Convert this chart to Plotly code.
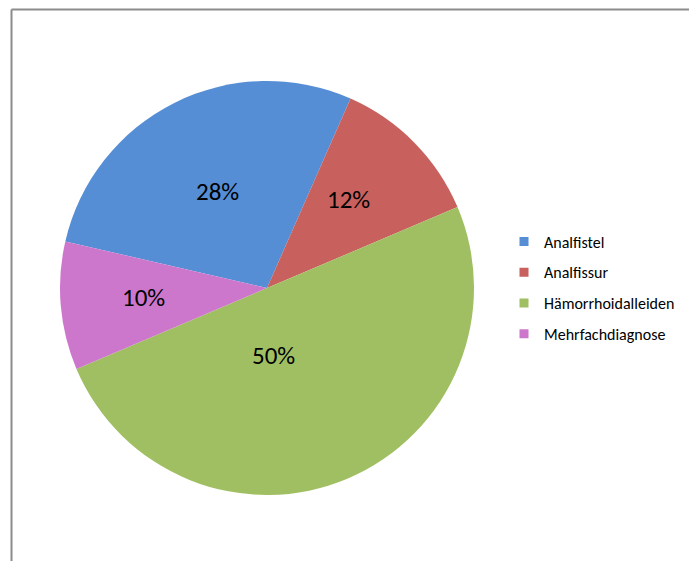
import plotly.graph_objects as go

# Diagnoses and their share of cases (%)
categories = ["Analfistel", "Analfissur", "Hämorrhoidalleiden", "Mehrfachdiagnose"]
shares = [28, 12, 50, 10]
colors = ["#558ED5", "#C8615E", "#A0BF62", "#CC77CC"]

W, H = 689, 561
font_family = "Carlito, Calibri, 'Open Sans', 'Liberation Sans', sans-serif"

fig = go.Figure()

fig.add_trace(go.Pie(
    labels=categories,
    values=shares,
    sort=False,
    direction="clockwise",
    rotation=283,
    marker=dict(colors=colors, line=dict(width=0)),
    textinfo="none",
    domain=dict(x=[60 / W, 474 / W], y=[1 - 495 / H, 1 - 81 / H]),
    showlegend=False,
    hoverinfo="label+percent",
))

# Legend entries as square swatches
for name, c in zip(categories, colors):
    fig.add_trace(go.Scatter(
        x=[None], y=[None], mode="markers", name=name,
        marker=dict(symbol="square", size=9, color=c),
        legendgroup=name, showlegend=True,
    ))

# Percentage labels placed inside each slice (pixel centres)
label_pos = [(218, 191.5), (348.5, 199), (273.5, 355.5), (143.5, 297.5)]
total = sum(shares)
annotations = []
for v, (px, py) in zip(shares, label_pos):
    annotations.append(dict(
        x=px / W, y=1 - py / H, xref="paper", yref="paper",
        text=f"{round(100 * v / total)}%", showarrow=False,
        xanchor="center", yanchor="middle",
        font=dict(family=font_family, size=25, color="#000000"),
    ))

fig.update_layout(
    width=W, height=H,
    margin=dict(l=0, r=0, t=0, b=0),
    paper_bgcolor="white",
    plot_bgcolor="white",
    xaxis=dict(visible=False),
    yaxis=dict(visible=False),
    annotations=annotations,
    legend=dict(
        x=504 / W, y=1 - 288 / H, xanchor="left", yanchor="middle",
        font=dict(family=font_family, size=16, color="#000000"),
        tracegroupgap=7,
        itemwidth=30,
        bgcolor="rgba(0,0,0,0)",
    ),
    shapes=[
        dict(type="line", xref="paper", yref="paper",
             x0=11.5 / W, x1=1.02, y0=1 - 9.5 / H, y1=1 - 9.5 / H,
             line=dict(color="#8C8C8C", width=2)),
        dict(type="line", xref="paper", yref="paper",
             x0=11.5 / W, x1=11.5 / W, y0=1 - 9.5 / H, y1=-0.02,
             line=dict(color="#8C8C8C", width=2)),
    ],
)

fig.write_html("out.html")
